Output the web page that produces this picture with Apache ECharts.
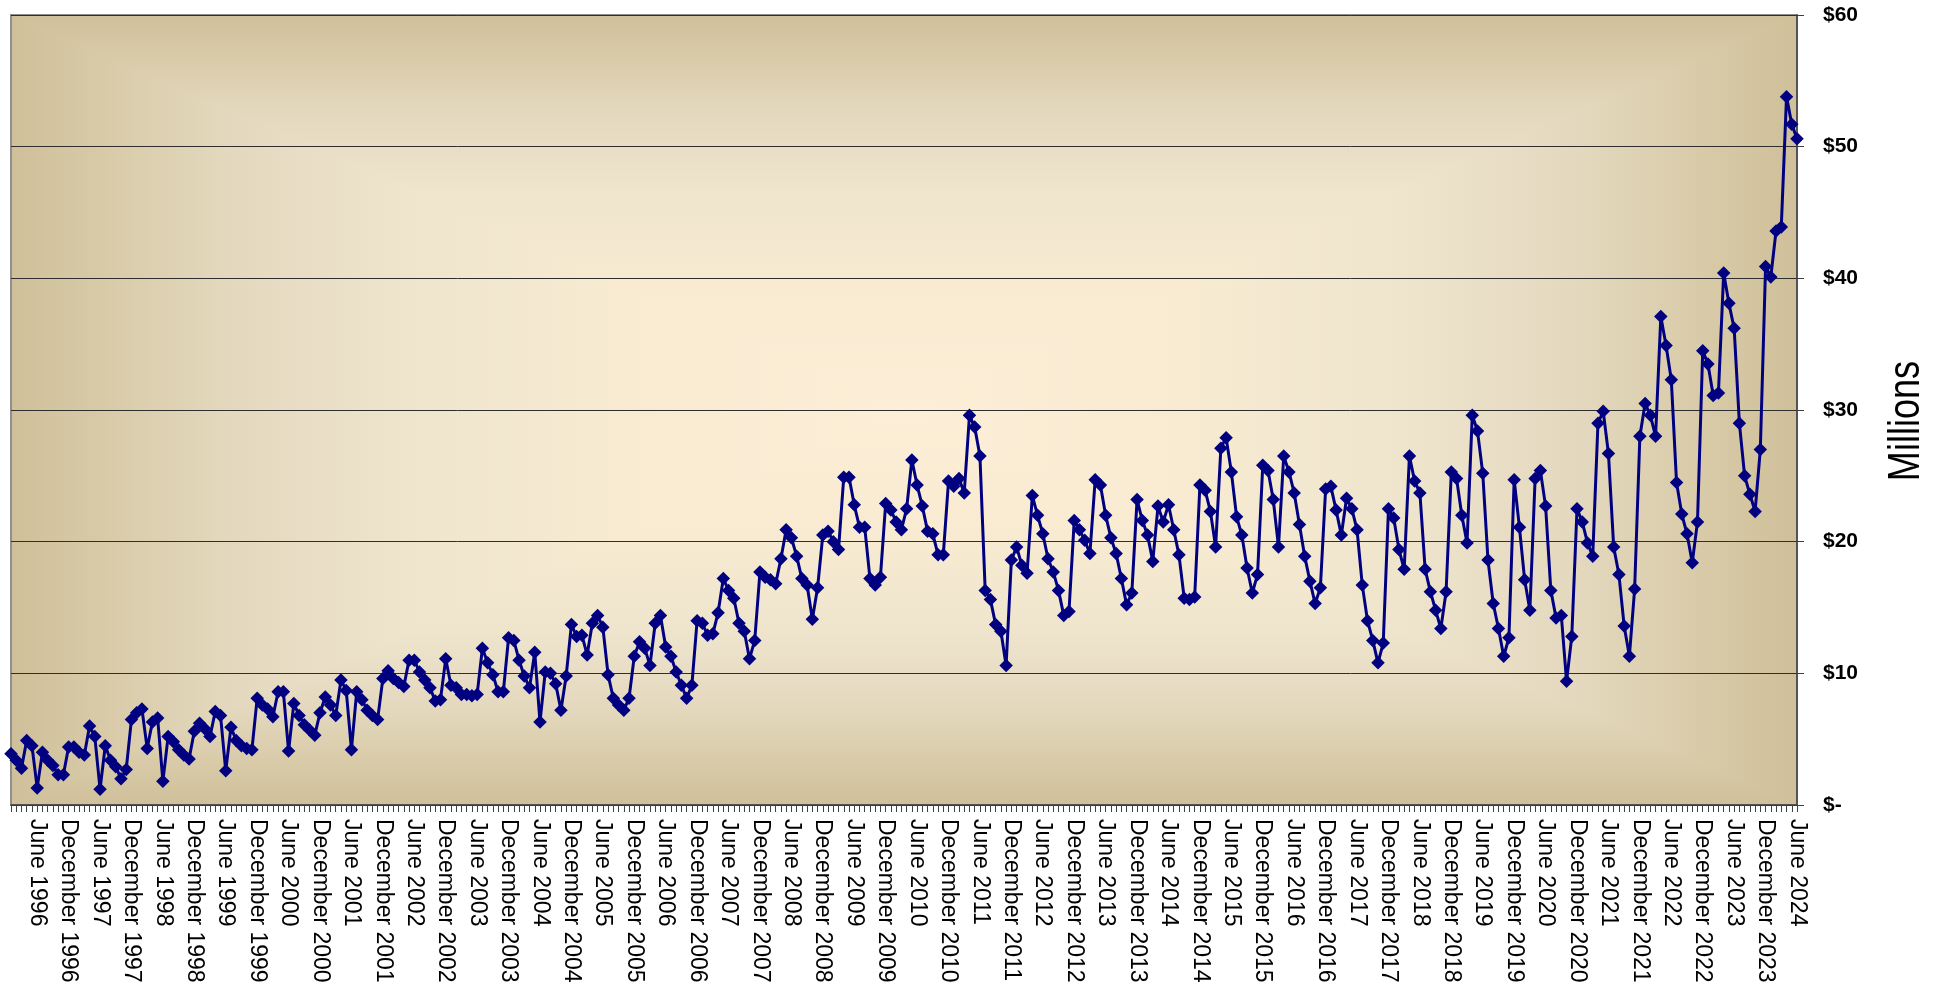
<!DOCTYPE html>
<html>
<head>
<meta charset="utf-8">
<title>Monthly revenue, millions</title>
<script src="https://cdn.jsdelivr.net/npm/echarts@6/dist/echarts.min.js"></script>
<style>
  html, body { margin: 0; padding: 0; background: #fff; }
  #chart { width: 1942px; height: 990px; }
</style>
</head>
<body>
<div id="chart"></div>
<script>
// monthly values, $ millions, one array per year (Jan..Dec)
const v1996 = [3.9, 3.4, 2.8, 4.9, 4.5, 1.3, 4.0, 3.4, 3.0, 2.3, 2.3, 4.4];
const v1997 = [4.4, 4.0, 3.8, 6.0, 5.2, 1.2, 4.5, 3.4, 2.9, 2.0, 2.7, 6.5];
const v1998 = [7.0, 7.3, 4.3, 6.3, 6.6, 1.8, 5.2, 4.8, 4.2, 3.8, 3.5, 5.6];
const v1999 = [6.2, 5.8, 5.2, 7.1, 6.8, 2.6, 5.9, 4.9, 4.5, 4.3, 4.2, 8.1];
const v2000 = [7.6, 7.3, 6.7, 8.6, 8.6, 4.1, 7.7, 6.8, 6.1, 5.7, 5.3, 7.0];
const v2001 = [8.2, 7.6, 6.8, 9.5, 8.7, 4.2, 8.6, 8.0, 7.2, 6.8, 6.5, 9.6];
const v2002 = [10.2, 9.6, 9.3, 9.0, 11.0, 11.0, 10.1, 9.5, 8.9, 7.9, 8.0, 11.1];
const v2003 = [9.1, 8.9, 8.4, 8.4, 8.3, 8.4, 11.9, 10.8, 9.9, 8.6, 8.6, 12.7];
const v2004 = [12.5, 11.0, 9.8, 8.9, 11.6, 6.3, 10.1, 10.0, 9.2, 7.2, 9.8, 13.7];
const v2005 = [12.8, 12.9, 11.4, 13.8, 14.4, 13.5, 9.9, 8.1, 7.6, 7.2, 8.1, 11.3];
const v2006 = [12.4, 11.9, 10.6, 13.8, 14.4, 12.0, 11.3, 10.1, 9.1, 8.1, 9.1, 14.0];
const v2007 = [13.8, 12.9, 13.0, 14.6, 17.2, 16.3, 15.7, 13.8, 13.2, 11.1, 12.5, 17.7];
const v2008 = [17.3, 17.1, 16.8, 18.7, 20.9, 20.3, 18.9, 17.2, 16.7, 14.1, 16.5, 20.5];
const v2009 = [20.8, 20.0, 19.4, 24.9, 24.9, 22.8, 21.1, 21.1, 17.2, 16.7, 17.3, 22.9];
const v2010 = [22.4, 21.5, 20.9, 22.5, 26.2, 24.3, 22.7, 20.8, 20.6, 19.0, 19.0, 24.6];
const v2011 = [24.2, 24.8, 23.7, 29.6, 28.7, 26.5, 16.3, 15.6, 13.7, 13.2, 10.6, 18.6];
const v2012 = [19.6, 18.2, 17.6, 23.5, 22.0, 20.6, 18.7, 17.7, 16.3, 14.4, 14.7, 21.6];
const v2013 = [20.9, 20.1, 19.1, 24.7, 24.3, 22.0, 20.3, 19.1, 17.2, 15.2, 16.1, 23.2];
const v2014 = [21.6, 20.5, 18.5, 22.7, 21.5, 22.8, 20.9, 19.0, 15.7, 15.6, 15.8, 24.3];
const v2015 = [23.9, 22.3, 19.6, 27.1, 27.9, 25.3, 21.9, 20.5, 18.0, 16.1, 17.5, 25.8];
const v2016 = [25.4, 23.2, 19.6, 26.5, 25.3, 23.7, 21.3, 18.9, 17.0, 15.3, 16.5, 24.0];
const v2017 = [24.2, 22.4, 20.5, 23.3, 22.5, 20.9, 16.7, 14.0, 12.5, 10.8, 12.3, 22.5];
const v2018 = [21.8, 19.4, 17.9, 26.5, 24.6, 23.7, 17.9, 16.2, 14.8, 13.4, 16.2, 25.3];
const v2019 = [24.8, 22.0, 19.9, 29.6, 28.4, 25.2, 18.6, 15.3, 13.4, 11.3, 12.7, 24.7];
const v2020 = [21.1, 17.1, 14.8, 24.8, 25.4, 22.7, 16.3, 14.2, 14.4, 9.4, 12.8, 22.5];
const v2021 = [21.5, 19.9, 18.9, 29.0, 29.9, 26.7, 19.6, 17.5, 13.6, 11.3, 16.4, 28.0];
const v2022 = [30.5, 29.6, 28.0, 37.1, 34.9, 32.3, 24.5, 22.1, 20.6, 18.4, 21.5, 34.5];
const v2023 = [33.5, 31.1, 31.3, 40.4, 38.1, 36.2, 29.0, 25.0, 23.6, 22.3, 27.0, 40.9];
const v2024 = [40.1, 43.6, 43.9, 53.8, 51.7, 50.6];

const monthNames = ["January", "February", "March", "April", "May", "June",
  "July", "August", "September", "October", "November", "December"];
const yLabels = ["$-", "$10", "$20", "$30", "$40", "$50", "$60"];

const byYear = [
  [1996, v1996], [1997, v1997], [1998, v1998], [1999, v1999], [2000, v2000],
  [2001, v2001], [2002, v2002], [2003, v2003], [2004, v2004], [2005, v2005],
  [2006, v2006], [2007, v2007], [2008, v2008], [2009, v2009], [2010, v2010],
  [2011, v2011], [2012, v2012], [2013, v2013], [2014, v2014], [2015, v2015],
  [2016, v2016], [2017, v2017], [2018, v2018], [2019, v2019], [2020, v2020],
  [2021, v2021], [2022, v2022], [2023, v2023], [2024, v2024]
];

const categories = [];
const values = [];
byYear.forEach(([yr, vals]) => {
  vals.forEach((v, m) => {
    categories.push(monthNames[m] + " " + yr);
    values.push(v);
  });
});

// plot box in px
const box = { left: 11, top: 15, width: 1786, height: 790 };
const W = 1942, H = 990;
const cx = box.left + box.width / 2;
const cy = box.top + box.height / 2;

// "from centre" rectangular gradient: t = 0 centre .. 1 edge
const ramp = [
  [0, "#fdefd7"],
  [0.3, "#f8ebd2"],
  [0.55, "#efe5cd"],
  [0.75, "#e4d9bf"],
  [0.9, "#d8caa7"],
  [1, "#cfc09a"]
];
function mirrored() {
  const stops = [];
  ramp.slice().reverse().forEach(([t, c]) => stops.push({ offset: (1 - t) / 2, color: c }));
  ramp.forEach(([t, c]) => { if (t > 0) stops.push({ offset: (1 + t) / 2, color: c }); });
  return stops;
}
const hGrad = { type: "linear", x: box.left, y: 0, x2: box.left + box.width, y2: 0, global: true, colorStops: mirrored() };
const vGrad = { type: "linear", x: 0, y: box.top, x2: 0, y2: box.top + box.height, global: true, colorStops: mirrored() };

const FONT = "'Liberation Sans', Arial, sans-serif";

const chart = echarts.init(document.getElementById("chart"));
chart.setOption({
  animation: false,
  backgroundColor: "#fff",
  graphic: [
    {
      type: "rect", z: -20, silent: true,
      shape: { x: box.left, y: box.top, width: box.width, height: box.height },
      style: { fill: hGrad }
    },
    {
      type: "polygon", z: -19, silent: true,
      shape: { points: [[box.left, box.top], [box.left + box.width, box.top], [cx, cy]] },
      style: { fill: vGrad }
    },
    {
      type: "polygon", z: -19, silent: true,
      shape: { points: [[box.left, box.top + box.height], [box.left + box.width, box.top + box.height], [cx, cy]] },
      style: { fill: vGrad }
    },
    {
      // axis title, set narrow like the original
      type: "text", silent: true,
      x: 1907, y: 421,
      rotation: Math.PI / 2,
      scaleX: 0.82,
      style: {
        text: "Millions",
        fontSize: 44,
        fontFamily: FONT,
        fill: "#000",
        align: "center",
        verticalAlign: "middle"
      }
    }
  ],
  grid: {
    left: box.left,
    top: box.top,
    right: W - box.left - box.width,
    bottom: H - box.top - box.height,
    show: true,
    backgroundColor: "transparent",
    borderColor: "#8f8f8f",
    borderWidth: 2
  },
  xAxis: {
    type: "category",
    data: categories,
    boundaryGap: false,
    axisLine: { lineStyle: { color: "#404040", width: 1.5 } },
    axisTick: { interval: 0, length: 7, lineStyle: { color: "#404040" } },
    axisLabel: {
      interval: (i) => i % 6 === 5,
      rotate: -90,
      margin: 14,
      color: "#000",
      fontSize: 23,
      fontFamily: FONT
    },
    splitLine: { show: false }
  },
  yAxis: {
    type: "value",
    position: "right",
    min: 0,
    max: 60,
    interval: 10,
    axisLine: { show: true, lineStyle: { color: "#404040", width: 1.5 } },
    axisTick: { show: true, length: 7, lineStyle: { color: "#404040" } },
    axisLabel: {
      formatter: (v) => yLabels[Math.round(v / 10)],
      margin: 26,
      color: "#000",
      fontSize: 21,
      fontWeight: "bold",
      fontFamily: FONT
    },
    splitLine: { lineStyle: { color: "#2e2e2e", width: 1 } }
  },
  series: [
    {
      name: "Monthly",
      type: "line",
      data: values,
      showAllSymbol: true,
      symbol: "diamond",
      symbolSize: 13.5,
      lineStyle: { color: "#000080", width: 3 },
      itemStyle: { color: "#000080" }
    }
  ]
});
</script>
</body>
</html>
